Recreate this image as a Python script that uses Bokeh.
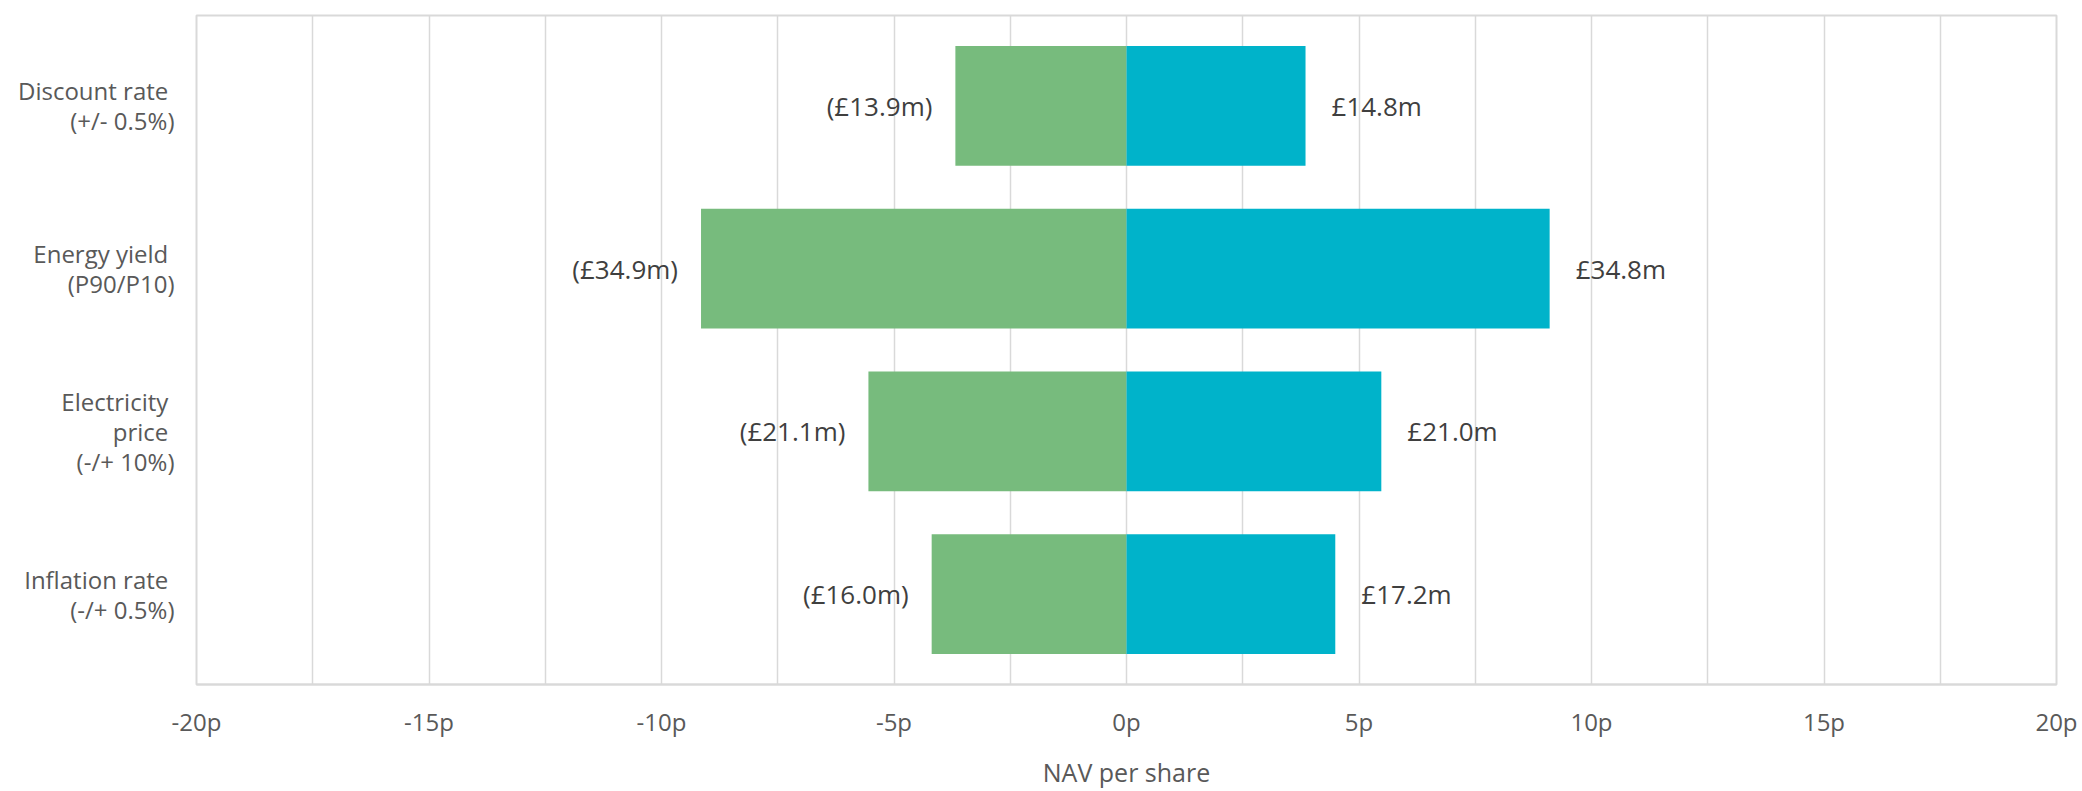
from bokeh.plotting import figure
from bokeh.models import FactorRange, Range1d, FixedTicker, ColumnDataSource
from bokeh.core.properties import value
from bokeh.embed import file_html
from bokeh.resources import INLINE

# Sensitivity of NAV per share (pence) to key assumptions
categories = [
    "Discount rate \n(+/- 0.5%)",
    "Energy yield \n(P90/P10)",
    "Electricity \nprice \n(-/+ 10%)",
    "Inflation rate \n(-/+ 0.5%)",
]
downside_p = [-3.68, -9.15, -5.55, -4.19]
upside_p = [3.85, 9.10, 5.48, 4.49]
downside_gbp_m = [13.9, 34.9, 21.1, 16.0]
upside_gbp_m = [14.8, 34.8, 21.0, 17.2]

x_ticks = [-20, -15, -10, -5, 0, 5, 10, 15, 20]
x_tick_labels = ["-20p", "-15p", "-10p", "-5p", "0p", "5p", "10p", "15p", "20p"]

FONT = "Open Sans"
AXIS_TEXT = "#595959"
LABEL_TEXT = "#3F3F3F"
GRID = "#D9D9D9"
GREEN = "#77BB7D"
BLUE = "#00B3CA"

src = ColumnDataSource(dict(
    cat=categories,
    down=downside_p,
    up=upside_p,
    down_lbl=[f"(£{v:.1f}m)" for v in downside_gbp_m],
    up_lbl=[f"£{v:.1f}m" for v in upside_gbp_m],
))

p = figure(
    width=2082, height=791,
    y_range=FactorRange(factors=categories[::-1], range_padding=0.0275),
    x_range=Range1d(-20, 20),
    output_backend="svg", toolbar_location=None,
    min_border_left=196, min_border_right=26,
    min_border_top=15, min_border_bottom=92,
)
p.background_fill_color = "white"
p.border_fill_color = "white"
p.outline_line_color = GRID
p.outline_line_width = 2

p.hbar(y="cat", left=0, right="down", height=0.735, source=src,
       fill_color=GREEN, line_color=None)
p.hbar(y="cat", left=0, right="up", height=0.735, source=src,
       fill_color=BLUE, line_color=None)

p.text(x="down", y="cat", text="down_lbl", source=src, x_offset=-23,
       text_align="right", text_baseline="middle",
       text_font=value(FONT), text_font_size="26px", text_color=LABEL_TEXT)
p.text(x="up", y="cat", text="up_lbl", source=src, x_offset=26,
       text_align="left", text_baseline="middle",
       text_font=value(FONT), text_font_size="26px", text_color=LABEL_TEXT)

# grid every 2.5p, axis labels every 5p
p.xgrid.ticker = FixedTicker(ticks=[t / 2 for t in range(-40, 41, 5)])
p.xgrid.grid_line_color = GRID
p.xgrid.grid_line_width = 1.5
p.ygrid.grid_line_color = None

xa = p.xaxis[0]
xa.ticker = FixedTicker(ticks=x_ticks)
xa.major_label_overrides = {t: s for t, s in zip(x_ticks, x_tick_labels)}
xa.axis_line_color = GRID
xa.axis_line_width = 2
xa.major_tick_line_color = None
xa.minor_tick_line_color = None
xa.major_label_text_font = FONT
xa.major_label_text_font_size = "24px"
xa.major_label_text_color = AXIS_TEXT
xa.major_label_standoff = 14
xa.axis_label = "NAV per share"
xa.axis_label_text_font = FONT
xa.axis_label_text_font_size = "25px"
xa.axis_label_text_font_style = "normal"
xa.axis_label_text_color = AXIS_TEXT
xa.axis_label_standoff = 14

ya = p.yaxis[0]
ya.axis_line_color = None
ya.major_tick_line_color = None
ya.minor_tick_line_color = None
ya.major_label_text_font = FONT
ya.major_label_text_font_size = "24px"
ya.major_label_text_color = AXIS_TEXT
ya.major_label_text_align = "right"
ya.major_label_text_line_height = 0.9
ya.major_label_standoff = 16

open("out.html", "w").write(file_html(p, INLINE))
